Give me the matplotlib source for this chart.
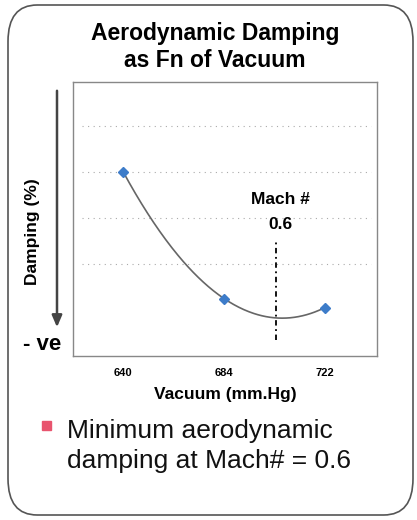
import numpy as np
import matplotlib
matplotlib.use("Agg")
import matplotlib.pyplot as plt
from matplotlib.patches import FancyBboxPatch, Rectangle

plt.rcParams['font.family'] = ['Liberation Sans', 'DejaVu Sans']

# data
vacuum = ["640", "684", "722"]
damping = [4.0, 1.25, 1.05]
mach_pos = 1.52          # position of the Mach 0.6 marker on the category axis
grid_levels = [2, 3, 4, 5]

W, H = 417, 520
fig = plt.figure(figsize=(W / 100, H / 100), dpi=100)

# rounded frame around the slide panel
box = FancyBboxPatch((8 / W, 5 / H), 405 / W, 510 / H,
                     boxstyle="round,pad=0,rounding_size=0.07",
                     transform=fig.transFigure, fill=False,
                     edgecolor="#555555", linewidth=1.2)
fig.patches.append(box)

fig.text(0.515, 1 - 47 / H, "Aerodynamic Damping\nas Fn of Vacuum", ha="center",
         va="center", fontsize=16.5, fontweight="bold", linespacing=1.2)

ax = fig.add_axes([73 / W, 1 - 356 / H, 304 / W, 274 / H])
x = np.arange(len(vacuum))
coef = np.polyfit(x, damping, 2)
xs = np.linspace(0, 2, 200)
ax.plot(xs, np.polyval(coef, xs), color="#666666", linewidth=1.2, zorder=2)
ax.plot(x, damping, linestyle="none", marker="D", markersize=5,
        color="#3d7cc9", zorder=3)

for g in grid_levels:
    ax.axhline(g, xmin=0.03, xmax=0.98, color="#aaaaaa", linewidth=0.8,
               linestyle=(0, (1, 4)), zorder=1)

ax.vlines(mach_pos, 0.35, 2.55, colors="black", linewidth=1.3,
          linestyles=(0, (3, 2, 1, 2)))
ax.text(mach_pos + 0.04, 3.4, "Mach #", ha="center", va="center",
        fontsize=12.5, fontweight="bold")
ax.text(mach_pos + 0.04, 2.85, "0.6", ha="center", va="center",
        fontsize=12.5, fontweight="bold")

ax.set_xlim(-0.5, 2.52)
ax.set_ylim(0, 5.96)
ax.set_xticks(x)
ax.set_xticklabels(vacuum, fontsize=8, fontweight="bold")
ax.set_yticks([])
ax.tick_params(axis="x", length=0, pad=9)
for s in ax.spines.values():
    s.set_color("#888888")
    s.set_linewidth(1.0)
ax.set_xlabel("Vacuum (mm.Hg)", fontsize=12.5, fontweight="bold", labelpad=6)

# y axis arrow and labels
ax.annotate("", xy=(57 / W, 1 - 330 / H), xytext=(57 / W, 1 - 88 / H),
            xycoords="figure fraction", textcoords="figure fraction",
            arrowprops=dict(arrowstyle="-|>,head_width=0.3,head_length=0.7",
                            color="#444444", linewidth=1.8))
fig.text(33 / W, 1 - 232 / H, "Damping (%)", rotation=90, ha="center",
         va="center", fontsize=12.5, fontweight="bold")
fig.text(42 / W, 1 - 345 / H, "- ve", ha="center", va="center",
         fontsize=16, fontweight="bold")

# bullet note
fig.patches.append(Rectangle((42 / W, 1 - 430 / H), 9 / W, 9 / H,
                             transform=fig.transFigure, color="#e8546e"))
fig.text(67 / W, 1 - 446 / H, "Minimum aerodynamic\ndamping at Mach# = 0.6",
         ha="left", va="center", fontsize=19, linespacing=1.35,
         color="#111111")

fig.savefig("out.png", dpi=100)
